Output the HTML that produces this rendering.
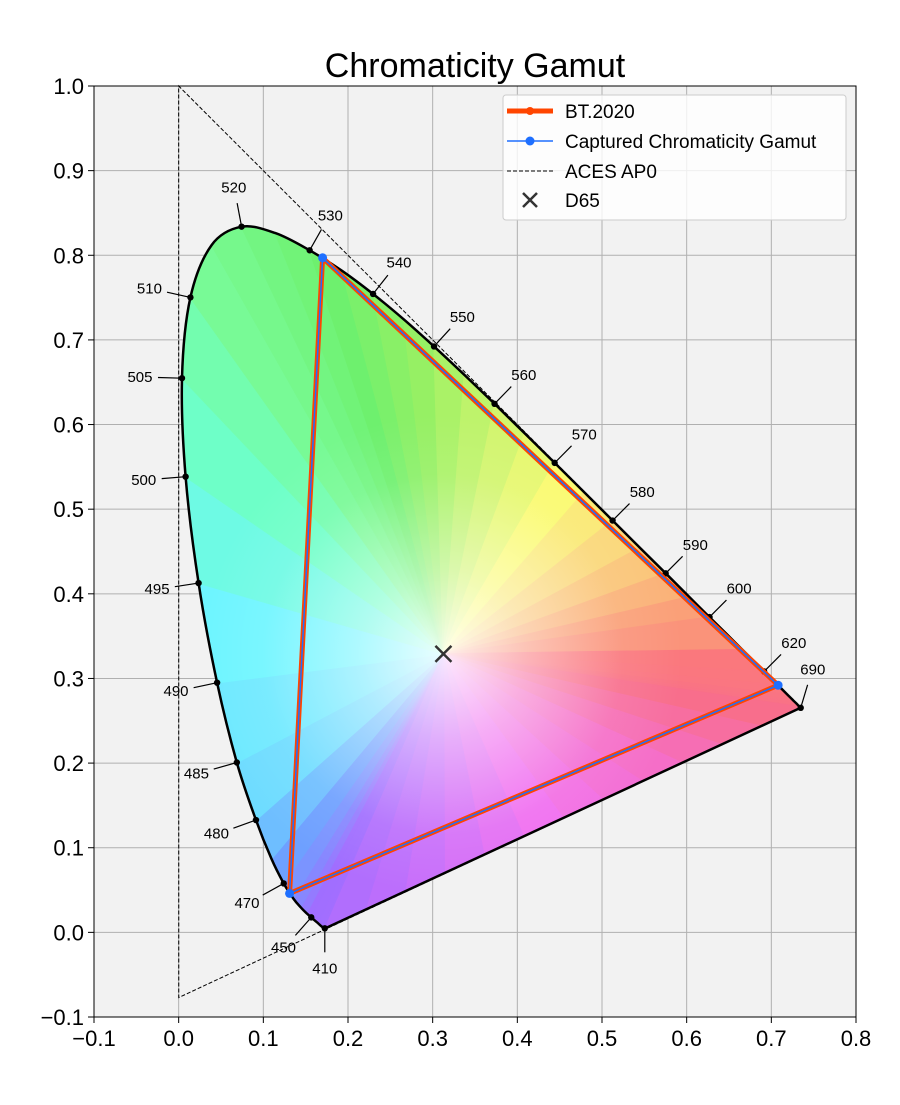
<!DOCTYPE html>
<html><head><meta charset="utf-8"><style>
html,body{margin:0;padding:0;background:#fff;}
svg text{font-family:"Liberation Sans",sans-serif;}
</style></head><body>
<svg id="chart" width="900" height="1100" xmlns="http://www.w3.org/2000/svg">
<defs>
<clipPath id="locusClip"><path id="clipPath"/></clipPath>
<radialGradient id="whiteGlow" gradientUnits="userSpaceOnUse" cx="443" cy="654" r="240">
<stop offset="0" stop-color="#ffffff" stop-opacity="0.85"/>
<stop offset="0.35" stop-color="#ffffff" stop-opacity="0.45"/>
<stop offset="0.75" stop-color="#ffffff" stop-opacity="0.08"/>
<stop offset="1" stop-color="#ffffff" stop-opacity="0"/>
</radialGradient>
</defs>
<rect x="94" y="86" width="762" height="931" fill="#f2f2f2"/>
<g id="grid"></g>
<g id="fill" clip-path="url(#locusClip)"></g>
<g id="marks"></g>
<rect x="94" y="86" width="762" height="931" fill="none" stroke="#000" stroke-width="1"/>
<g id="ticks"></g>
<text x="475" y="77" font-size="34" text-anchor="middle" fill="#000">Chromaticity Gamut</text>
<g>
<rect x="503" y="95" width="343" height="125" rx="3" fill="#fff" fill-opacity="0.8" stroke="#ccc"/>
<line x1="507" y1="111" x2="553" y2="111" stroke="#ff4500" stroke-width="5"/><circle cx="530" cy="111" r="4" fill="#ff4500"/>
<text x="565" y="118" font-size="19">BT.2020</text>
<line x1="507" y1="141" x2="553" y2="141" stroke="#1e6fff" stroke-width="1.5"/><circle cx="530" cy="141" r="4.5" fill="#1e6fff"/>
<text x="565" y="148" font-size="19">Captured Chromaticity Gamut</text>
<line x1="507" y1="171" x2="553" y2="171" stroke="#000" stroke-width="1" stroke-dasharray="4,2"/>
<text x="565" y="178" font-size="19">ACES AP0</text>
<path d="M523,193 L537,207 M537,193 L523,207" stroke="#333" stroke-width="2.5"/>
<text x="565" y="207" font-size="19">D65</text>
</g>
</svg>
<script>
const locusWl=[400,420,430,440,450,455,460,465,470,475,480,485,490,495,500,505,510,515,520,525,530,535,540,545,550,555,560,565,570,575,580,585,590,595,600,610,620,630,640,650,660,680,690];
const locusX=[0.1733,0.1714,0.1689,0.1644,0.1566,0.1510,0.1440,0.1355,0.1241,0.1096,0.0913,0.0687,0.0454,0.0235,0.0082,0.0039,0.0139,0.0389,0.0743,0.1142,0.1547,0.1929,0.2296,0.2658,0.3016,0.3373,0.3731,0.4087,0.4441,0.4788,0.5125,0.5448,0.5752,0.6029,0.6270,0.6658,0.6915,0.7079,0.7190,0.7260,0.7300,0.7334,0.7347];
const locusY=[0.0048,0.0051,0.0069,0.0109,0.0177,0.0227,0.0297,0.0399,0.0578,0.0868,0.1327,0.2007,0.2950,0.4127,0.5384,0.6548,0.7502,0.8120,0.8338,0.8262,0.8059,0.7816,0.7543,0.7243,0.6923,0.6589,0.6245,0.5896,0.5547,0.5202,0.4866,0.4544,0.4242,0.3965,0.3725,0.3340,0.3083,0.2920,0.2809,0.2740,0.2700,0.2666,0.2653];
const labelWl=[410,450,470,480,485,490,495,500,505,510,520,530,540,550,560,570,580,590,600,620,690];
const labelX=[0.1726,0.1566,0.1241,0.0913,0.0687,0.0454,0.0235,0.0082,0.0039,0.0139,0.0743,0.1547,0.2296,0.3016,0.3731,0.4441,0.5125,0.5752,0.6270,0.6915,0.7347];
const labelY=[0.0048,0.0177,0.0578,0.1327,0.2007,0.2950,0.4127,0.5384,0.6548,0.7502,0.8338,0.8059,0.7543,0.6923,0.6245,0.5547,0.4866,0.4242,0.3725,0.3083,0.2653];
const bt2020X=[0.708,0.170,0.131];
const bt2020Y=[0.292,0.797,0.046];
const capturedX=[0.708,0.170,0.131];
const capturedY=[0.292,0.797,0.046];
const ap0X=[0.7347,0.0,0.0001];
const ap0Y=[0.2653,1.0,-0.0770];
const d65=[0.3127,0.3290];
const xTicks=[-0.1,0,0.1,0.2,0.3,0.4,0.5,0.6,0.7,0.8];
const yTicks=[-0.1,0,0.1,0.2,0.3,0.4,0.5,0.6,0.7,0.8,0.9,1.0];

const NS='http://www.w3.org/2000/svg';
const sx=v=>94+(v+0.1)*762/0.9;
const sy=v=>1017-(v+0.1)*931/1.1;
function mk(tag,attrs,parent){const e=document.createElementNS(NS,tag);for(const k in attrs)e.setAttribute(k,attrs[k]);parent.appendChild(e);return e;}
const grid=document.getElementById('grid'),ticks=document.getElementById('ticks'),fill=document.getElementById('fill'),marks=document.getElementById('marks');

xTicks.forEach(t=>{const x=sx(t);
 const g=mk('line',{x1:x,x2:x,y1:86,y2:1017,stroke:'#b0b0b0','stroke-width':1},grid);
 
 
 mk('line',{x1:x,x2:x,y1:1017,y2:1023,stroke:'#000'},ticks);
 const tx=mk('text',{x:x,y:1046,'font-size':22,'text-anchor':'middle'},ticks);
 
 
 tx.textContent=(t<0?'\u2212':'')+Math.abs(t).toFixed(1);});
yTicks.forEach(t=>{const y=sy(t);
 const g=mk('line',{x1:94,x2:856,y1:y,y2:y,stroke:'#b0b0b0','stroke-width':1},grid);
 
 
 mk('line',{x1:88,x2:94,y1:y,y2:y,stroke:'#000'},ticks);
 const tx=mk('text',{x:84,y:y+8,'font-size':22,'text-anchor':'end'},ticks);
 
 
 tx.textContent=(t<0?'\u2212':'')+Math.abs(t).toFixed(1);});

function smoothPath(pts){
 let d='M'+pts[0][0].toFixed(1)+','+pts[0][1].toFixed(1);
 for(let i=0;i<pts.length-1;i++){
  const p0=pts[Math.max(0,i-1)],p1=pts[i],p2=pts[i+1],p3=pts[Math.min(pts.length-1,i+2)];
  const c1=[p1[0]+(p2[0]-p0[0])/6,p1[1]+(p2[1]-p0[1])/6],c2=[p2[0]-(p3[0]-p1[0])/6,p2[1]-(p3[1]-p1[1])/6];
  d+=` C${c1[0].toFixed(1)},${c1[1].toFixed(1)} ${c2[0].toFixed(1)},${c2[1].toFixed(1)} ${p2[0].toFixed(1)},${p2[1].toFixed(1)}`;}
 return d+' Z';}

const P=[];const C=[];
function wlColor(w){
 const stops=[[400,[165,110,255]],[450,[160,110,255]],[470,[110,160,255]],[480,[110,220,255]],[490,[110,245,255]],[500,[110,255,200]],[510,[120,250,150]],[530,[110,240,110]],[545,[150,240,100]],[560,[210,245,110]],[570,[250,250,110]],[580,[250,215,120]],[595,[250,160,120]],[610,[250,120,125]],[690,[248,110,140]]];
 for(let i=0;i<stops.length-1;i++){if(w<=stops[i+1][0]){const f=(w-stops[i][0])/(stops[i+1][0]-stops[i][0]);return stops[i][1].map((c,k)=>Math.round(c+(stops[i+1][1][k]-c)*Math.max(0,f)));}}
 return stops[stops.length-1][1];}
const LP=[];
for(let i=0;i<locusX.length;i++){LP.push([sx(locusX[i]),sy(locusY[i])]);P.push(LP[i]);C.push(wlColor(locusWl[i]));}
const locusD=smoothPath(LP);
const n=12;const a=P[P.length-1],b=P[0];
const purple=[[248,110,140],[245,110,200],[240,110,240],[200,110,250],[165,110,255]];
for(let k=1;k<n;k++){const f=k/n;P.push([a[0]+(b[0]-a[0])*f,a[1]+(b[1]-a[1])*f]);
 const pf=f*(purple.length-1),pi=Math.floor(pf),pr=pf-pi;const c0=purple[pi],c1=purple[Math.min(pi+1,purple.length-1)];
 C.push(c0.map((c,j)=>Math.round(c+(c1[j]-c)*pr)));}
document.getElementById('clipPath').setAttribute('d',locusD);
const cx=sx(d65[0]),cy=sy(d65[1]);
for(let i=0;i<P.length;i++){const p=P[i],q=P[(i+1)%P.length],c=C[i];
 let px=p[0]+(p[0]-cx)*0.08,py=p[1]+(p[1]-cy)*0.08,qx=q[0]+(q[0]-cx)*0.08,qy=q[1]+(q[1]-cy)*0.08;
 const col='rgb('+c.join(',')+')';
 const t=mk('path',{d:`M${cx},${cy} L${px},${py} L${qx},${qy} Z`,fill:col,stroke:col,'stroke-width':1.5},fill);
 
 }
mk('rect',{x:0,y:0,width:900,height:1100,fill:'url(#whiteGlow)'},fill);

const ap=mk('path',{d:'M'+ap0X.map((v,i)=>sx(v)+','+sy(ap0Y[i])).join(' L')+' Z',fill:'none',stroke:'#000','stroke-width':1,'stroke-dasharray':'4,2'},marks);



const lo=mk('path',{d:locusD,fill:'none',stroke:'#000','stroke-width':2.5,'stroke-linejoin':'round'},marks);



for(let i=0;i<labelWl.length;i++){
 const px=sx(labelX[i]),py=sy(labelY[i]);
 let j=locusWl.indexOf(labelWl[i]);if(j<0){j=0;}
 const j0=Math.max(0,j-1),j1=Math.min(locusWl.length-1,j+1);
 let tx=sx(locusX[j1])-sx(locusX[j0]),ty=sy(locusY[j1])-sy(locusY[j0]);
 if(labelWl[i]>=690||labelWl[i]<=410){tx=1;ty=0.3;}
 let nx=-ty,ny=tx;const L=Math.hypot(nx,ny)||1;nx/=L;ny/=L;
 if(nx*(px-cx)+ny*(py-cy)<0){nx=-nx;ny=-ny;}
 if(labelWl[i]<=410){nx=0;ny=1;}
 const d=mk('circle',{cx:px,cy:py,r:3.2,fill:'#000'},marks);
 
 
 mk('line',{x1:px,y1:py,x2:px+nx*24,y2:py+ny*24,stroke:'#000','stroke-width':1.2},marks);
 const t=mk('text',{x:px+nx*42,y:py+ny*40+5,'font-size':15,'text-anchor':'middle'},marks);
 
 
 t.textContent=labelWl[i];}

const bt=mk('path',{d:'M'+bt2020X.map((v,i)=>sx(v)+','+sy(bt2020Y[i])).join(' L')+' Z',fill:'none',stroke:'#ff4500','stroke-width':5,'stroke-linejoin':'round'},marks);


const cap=mk('path',{d:'M'+capturedX.map((v,i)=>sx(v)+','+sy(capturedY[i])).join(' L')+' Z',fill:'none',stroke:'#1e6fff','stroke-width':1.5},marks);


capturedX.forEach((v,i)=>{const c=mk('circle',{cx:sx(v),cy:sy(capturedY[i]),r:4.5,fill:'#1e6fff'},marks);
 
 });

const dx=sx(d65[0]),dy=sy(d65[1]);
const dm=mk('path',{d:`M${dx-8},${dy-8} L${dx+8},${dy+8} M${dx+8},${dy-8} L${dx-8},${dy+8}`,stroke:'#333','stroke-width':2.5},marks);


</script>
</body></html>
